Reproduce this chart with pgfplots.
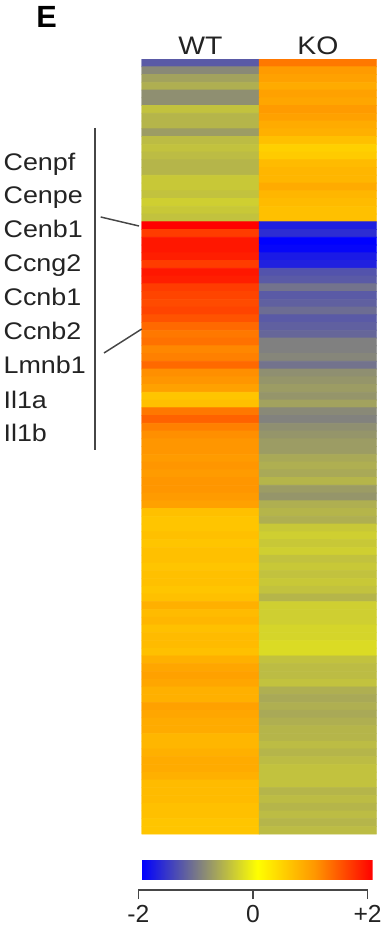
\documentclass[border=0pt]{standalone}
\usepackage{fontspec}
\setmainfont{Liberation Sans}
\newfontfamily\labfont{Liberation Sans}[FakeStretch=1.12]
\usepackage{graphicx}
\usepackage{pgfplots}
\pgfplotsset{compat=1.18}
\definecolor{linegray}{RGB}{70,70,70}
\definecolor{labtext}{RGB}{35,35,35}
\begin{document}
\begin{tikzpicture}
\path[use as bounding box] (0,0) rectangle (288pt,-702.75pt);
\begin{axis}[
  at={(106.3pt,-44.25pt)}, anchor=north west,
  scale only axis, width=176.25pt, height=581.25pt,
  xmin=-0.5, xmax=1.5, ymin=-0.5, ymax=99.5, y dir=reverse, enlargelimits=false,
  colormap={heat}{rgb255=(0,0,255) rgb255=(128,128,128) rgb255=(255,255,0) rgb255=(255,150,0) rgb255=(255,0,0)},
  point meta min=-2, point meta max=2,
  xtick={0,1}, xticklabels={WT,KO}, xticklabel pos=upper, ytick=\empty,
  major tick length=0pt, axis line style={draw=none},
  xticklabel style={font=\labfont\fontsize{19}{21}\selectfont, text=labtext},
  colorbar horizontal,
  colorbar style={at={([xshift=-3pt,yshift=-12.5pt]parent axis.south west)}, anchor=north west,
    scale only axis, width=173.25pt, height=25.7pt, xtick=\empty, ytick=\empty,
    axis line style={draw=none}},
]
\addplot[matrix plot*, mesh/cols=2, point meta=explicit] table[x=x, y=y, meta=c, row sep=\\] {
x y c\\
0 0 -1.3\\ 1 0 1.2\\
0 1 -0.93\\ 1 1 0.95\\
0 2 -0.73\\ 1 2 0.9\\
0 3 -0.63\\ 1 3 0.8\\
0 4 -0.88\\ 1 4 0.9\\
0 5 -0.88\\ 1 5 0.85\\
0 6 -0.48\\ 1 6 0.95\\
0 7 -0.58\\ 1 7 0.9\\
0 8 -0.58\\ 1 8 0.8\\
0 9 -0.78\\ 1 9 0.75\\
0 10 -0.53\\ 1 10 0.6\\
0 11 -0.48\\ 1 11 0.45\\
0 12 -0.53\\ 1 12 0.5\\
0 13 -0.58\\ 1 13 0.65\\
0 14 -0.58\\ 1 14 0.7\\
0 15 -0.43\\ 1 15 0.7\\
0 16 -0.43\\ 1 16 0.8\\
0 17 -0.48\\ 1 17 0.7\\
0 18 -0.38\\ 1 18 0.65\\
0 19 -0.43\\ 1 19 0.6\\
0 20 -0.48\\ 1 20 0.6\\
0 21 2.0\\ 1 21 -1.75\\
0 22 1.6\\ 1 22 -1.65\\
0 23 1.85\\ 1 23 -2.0\\
0 24 1.85\\ 1 24 -1.95\\
0 25 1.8\\ 1 25 -1.8\\
0 26 1.6\\ 1 26 -1.75\\
0 27 1.85\\ 1 27 -1.35\\
0 28 1.8\\ 1 28 -1.3\\
0 29 1.6\\ 1 29 -1.1\\
0 30 1.55\\ 1 30 -1.3\\
0 31 1.5\\ 1 31 -1.25\\
0 32 1.55\\ 1 32 -1.15\\
0 33 1.45\\ 1 33 -1.3\\
0 34 1.3\\ 1 34 -1.25\\
0 35 1.2\\ 1 35 -1.2\\
0 36 1.25\\ 1 36 -1.0\\
0 37 1.1\\ 1 37 -1.0\\
0 38 1.15\\ 1 38 -0.95\\
0 39 1.3\\ 1 39 -1.1\\
0 40 1.05\\ 1 40 -0.88\\
0 41 1.0\\ 1 41 -0.83\\
0 42 0.9\\ 1 42 -0.78\\
0 43 0.55\\ 1 43 -0.83\\
0 44 0.6\\ 1 44 -0.73\\
0 45 1.2\\ 1 45 -0.93\\
0 46 1.35\\ 1 46 -0.98\\
0 47 1.15\\ 1 47 -0.88\\
0 48 1.05\\ 1 48 -0.83\\
0 49 1.0\\ 1 49 -0.78\\
0 50 1.0\\ 1 50 -0.78\\
0 51 0.95\\ 1 51 -0.68\\
0 52 1.0\\ 1 52 -0.63\\
0 53 0.95\\ 1 53 -0.68\\
0 54 1.0\\ 1 54 -0.58\\
0 55 1.0\\ 1 55 -0.78\\
0 56 0.95\\ 1 56 -0.83\\
0 57 0.9\\ 1 57 -0.63\\
0 58 0.6\\ 1 58 -0.58\\
0 59 0.55\\ 1 59 -0.63\\
0 60 0.55\\ 1 60 -0.43\\
0 61 0.6\\ 1 61 -0.38\\
0 62 0.55\\ 1 62 -0.43\\
0 63 0.6\\ 1 63 -0.38\\
0 64 0.6\\ 1 64 -0.48\\
0 65 0.55\\ 1 65 -0.43\\
0 66 0.6\\ 1 66 -0.48\\
0 67 0.6\\ 1 67 -0.43\\
0 68 0.55\\ 1 68 -0.48\\
0 69 0.6\\ 1 69 -0.58\\
0 70 0.75\\ 1 70 -0.38\\
0 71 0.65\\ 1 71 -0.38\\
0 72 0.7\\ 1 72 -0.38\\
0 73 0.6\\ 1 73 -0.33\\
0 74 0.65\\ 1 74 -0.33\\
0 75 0.65\\ 1 75 -0.28\\
0 76 0.6\\ 1 76 -0.28\\
0 77 0.75\\ 1 77 -0.48\\
0 78 0.85\\ 1 78 -0.53\\
0 79 0.9\\ 1 79 -0.53\\
0 80 0.85\\ 1 80 -0.48\\
0 81 0.75\\ 1 81 -0.63\\
0 82 0.75\\ 1 82 -0.68\\
0 83 0.9\\ 1 83 -0.63\\
0 84 0.85\\ 1 84 -0.68\\
0 85 0.8\\ 1 85 -0.63\\
0 86 0.8\\ 1 86 -0.58\\
0 87 0.7\\ 1 87 -0.58\\
0 88 0.7\\ 1 88 -0.53\\
0 89 0.75\\ 1 89 -0.58\\
0 90 0.8\\ 1 90 -0.53\\
0 91 0.8\\ 1 91 -0.48\\
0 92 0.75\\ 1 92 -0.48\\
0 93 0.65\\ 1 93 -0.48\\
0 94 0.65\\ 1 94 -0.58\\
0 95 0.65\\ 1 95 -0.53\\
0 96 0.6\\ 1 96 -0.58\\
0 97 0.6\\ 1 97 -0.53\\
0 98 0.55\\ 1 98 -0.58\\
0 99 0.55\\ 1 99 -0.53\\
};
\end{axis}
% scale of the colour bar
\begin{axis}[
  at={(103.7pt,-667.5pt)}, anchor=south west,
  scale only axis, width=172pt, height=1pt,
  xmin=-2, xmax=2, ymin=0, ymax=1,
  axis x line*=bottom, axis y line=none,
  xtick={-2,0,2}, xticklabels={-2,0,+2},
  tick align=outside, major tick length=6.75pt,
  tick style={line width=1pt, linegray},
  axis line style={line width=1pt, linegray},
  xticklabel style={font=\fontsize{18.5}{20}\selectfont, text=labtext, yshift=-1.5pt},
  /pgf/number format/assume math mode=true,
]
\addplot[draw=none] coordinates {(-2,0) (2,1)};
\end{axis}
\node[anchor=base west, inner sep=0, font=\bfseries\fontsize{23}{25}\selectfont] at (27pt,-21pt) {E};
\draw[line width=1.5pt, linegray] (71.25pt,-96pt) -- (71.25pt,-337.5pt);
\draw[line width=1.1pt, linegray] (75.5pt,-162.75pt) -- (104.25pt,-169.5pt);
\draw[line width=1.1pt, linegray] (78pt,-264.75pt) -- (106.3pt,-246.75pt);
\begin{scope}[every node/.style={anchor=base west, inner sep=0, font=\labfont\fontsize{18}{20}\selectfont, text=labtext}]
\node at (2.5pt,-127.9pt) {Cenpf};
\node at (2.5pt,-152.6pt) {Cenpe};
\node at (2.5pt,-178.1pt) {Cenb1};
\node at (2.5pt,-203.6pt) {Ccng2};
\node at (2.5pt,-229.1pt) {Ccnb1};
\node at (2.5pt,-254.6pt) {Ccnb2};
\node at (2.5pt,-280.1pt) {Lmnb1};
\node at (2.5pt,-306.4pt) {Il1a};
\node at (2.5pt,-331.1pt) {Il1b};
\end{scope}
\end{tikzpicture}
\end{document}
